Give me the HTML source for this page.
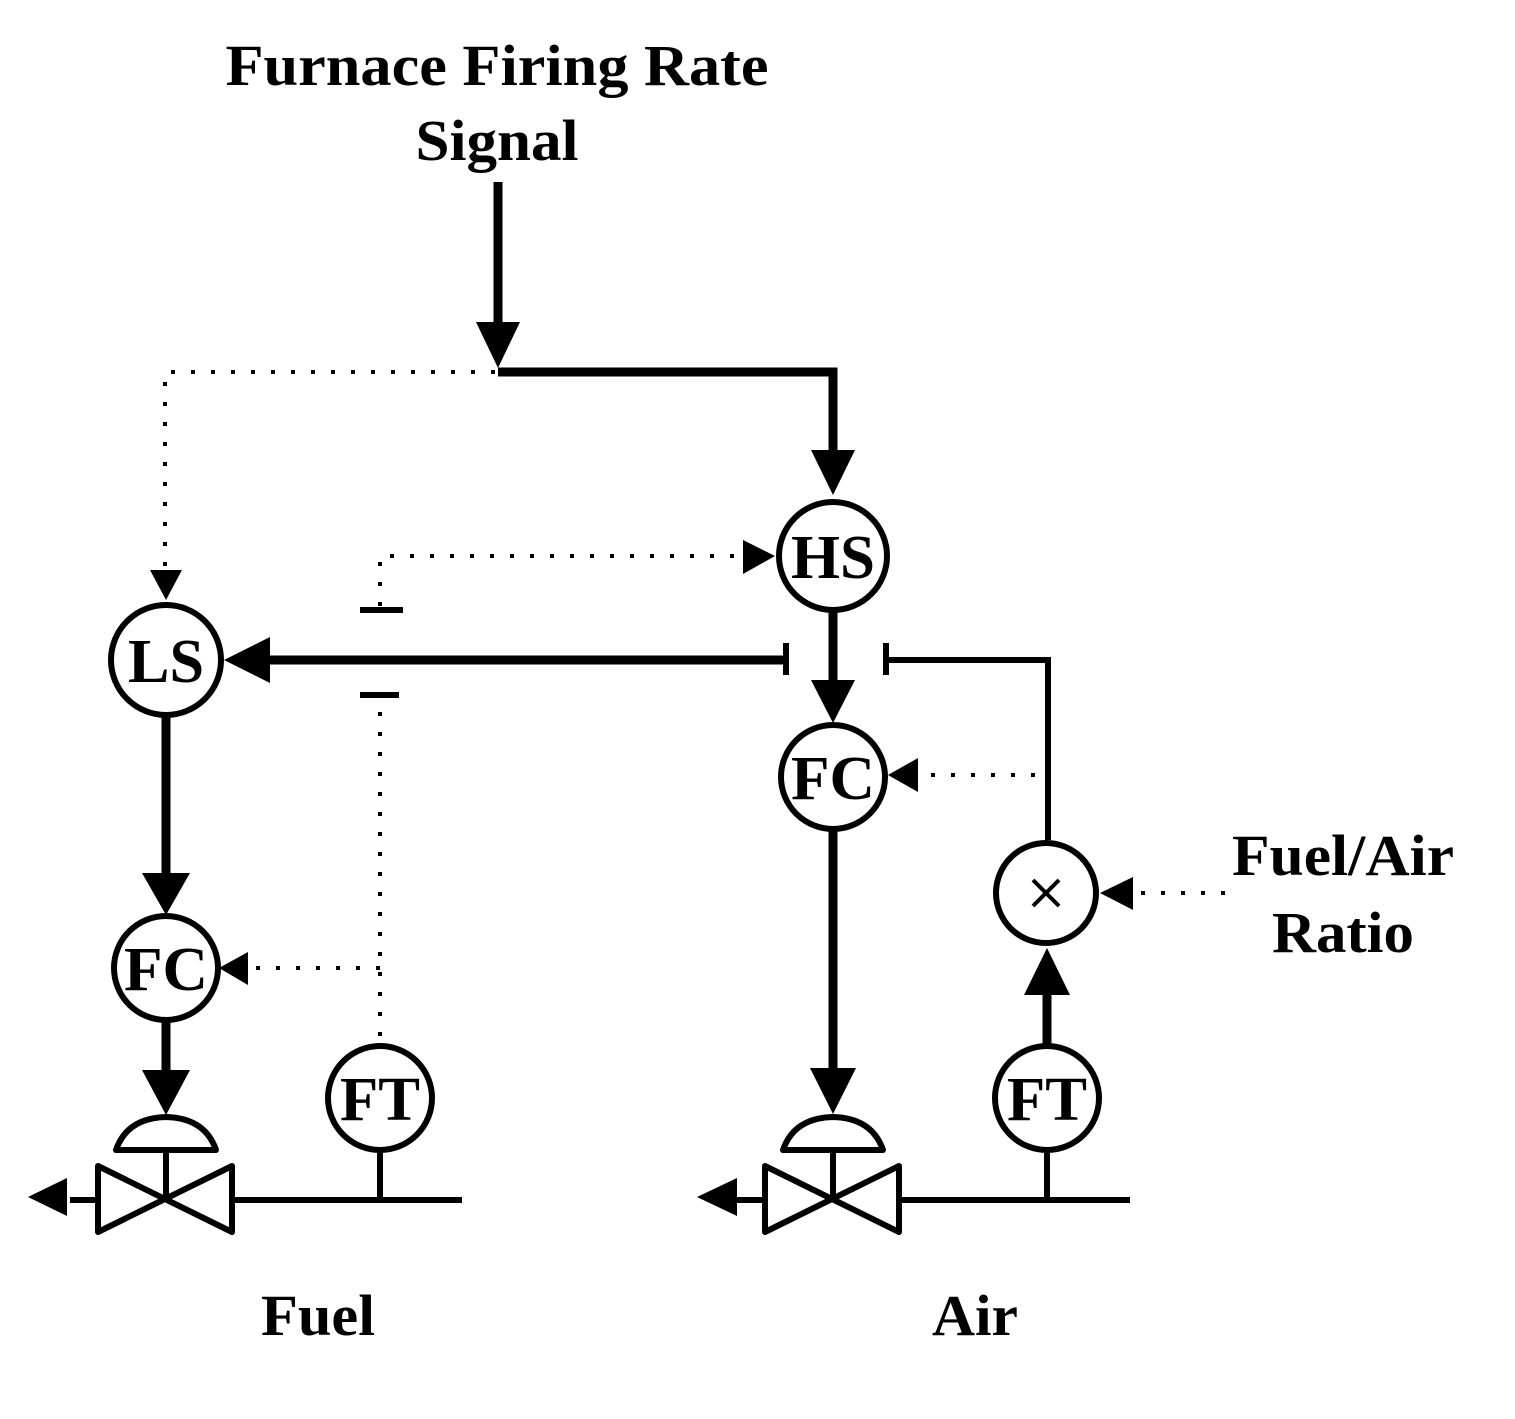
<!DOCTYPE html>
<html><head><style>body{margin:0;background:#fff}svg{display:block}</style></head><body>
<svg width="1515" height="1419" viewBox="0 0 1515 1419" xmlns="http://www.w3.org/2000/svg" font-family="Liberation Serif, serif" font-weight="bold">
<rect width="1515" height="1419" fill="#fff"/>
<g fill="#000" text-anchor="middle" font-size="58">
<text x="497" y="85" textLength="543" lengthAdjust="spacingAndGlyphs">Furnace Firing Rate</text>
<text x="497" y="160" textLength="163" lengthAdjust="spacingAndGlyphs">Signal</text>
<text x="1343" y="875" textLength="222" lengthAdjust="spacingAndGlyphs">Fuel/Air</text>
<text x="1343" y="952" textLength="142" lengthAdjust="spacingAndGlyphs">Ratio</text>
<text x="318" y="1335" textLength="114" lengthAdjust="spacingAndGlyphs">Fuel</text>
<text x="975" y="1335" textLength="86" lengthAdjust="spacingAndGlyphs">Air</text>
</g>
<g stroke="#000" fill="none">
<g stroke-width="9">
<path d="M498 182V330"/>
<path d="M498 372H833V460"/>
<path d="M270 660H787"/>
<path d="M833 612V690"/>
<path d="M166 715V880"/>
<path d="M166 1020V1075"/>
<path d="M833 830V1070"/>
<path d="M1047 1045V990"/>
</g>
<g stroke-width="6">
<path d="M887 660H1048V840"/>
<path d="M786 643V675"/>
<path d="M886 643V675"/>
<path d="M360 610H403"/>
<path d="M360 695H399"/>
</g>
<g stroke-width="4" stroke-dasharray="4 16">
<path d="M495 372H165V575"/>
<path d="M380 606V556H745"/>
<path d="M380 712V1045"/>
<path d="M380 968H250"/>
<path d="M1035 775H920"/>
<path d="M1225 893H1135"/>
</g>
<g stroke-width="6" fill="#fff">
<circle cx="833" cy="556" r="54"/>
<circle cx="166" cy="660" r="55"/>
<circle cx="833" cy="777" r="52"/>
<circle cx="166" cy="968" r="52"/>
<circle cx="380" cy="1098" r="52"/>
<circle cx="1047" cy="1098" r="52"/>
<circle cx="1046" cy="893" r="50"/>
</g>
<path d="M1033 880L1059 906M1059 880L1033 906" stroke-width="4"/>
<g stroke-width="6" stroke-linejoin="round">
<path d="M232 1200H462M380 1150V1200M166 1150V1200M70 1200H98"/>
<path d="M899 1200H1130M1047 1150V1200M833 1150V1200M737 1200H765"/>
<path d="M98 1166L232 1232V1166L98 1232Z" fill="#fff"/>
<path d="M765 1166L899 1232V1166L765 1232Z" fill="#fff"/>
<path d="M116 1150H216Q205 1118 166 1117Q127 1118 116 1150Z" fill="#fff"/>
<path d="M783 1150H883Q872 1118 833 1117Q794 1118 783 1150Z" fill="#fff"/>
</g>
</g>
<g fill="#000">
<path d="M476 322H520L498 368Z"/>
<path d="M811 450H855L833 495Z"/>
<path d="M150 570H182L166 600Z"/>
<path d="M743 540V574L775 556Z"/>
<path d="M270 637V683L224 660Z"/>
<path d="M811 680H855L833 723Z"/>
<path d="M142 873H190L166 915Z"/>
<path d="M248 952V985L219 968Z"/>
<path d="M918 758V792L888 775Z"/>
<path d="M1133 877V910L1100 893Z"/>
<path d="M1024 995H1070L1047 948Z"/>
<path d="M142 1070H190L166 1115Z"/>
<path d="M810 1068H856L833 1114Z"/>
<path d="M67 1178V1216L28 1197Z"/>
<path d="M737 1178V1216L697 1197Z"/>
</g>
<g font-size="62" text-anchor="middle" fill="#000">
<text x="833" y="578" textLength="84" lengthAdjust="spacingAndGlyphs">HS</text>
<text x="166" y="682" textLength="76" lengthAdjust="spacingAndGlyphs">LS</text>
<text x="833" y="799" textLength="84" lengthAdjust="spacingAndGlyphs">FC</text>
<text x="166" y="990" textLength="84" lengthAdjust="spacingAndGlyphs">FC</text>
<text x="380" y="1120" textLength="80" lengthAdjust="spacingAndGlyphs">FT</text>
<text x="1047" y="1120" textLength="80" lengthAdjust="spacingAndGlyphs">FT</text>
</g>
</svg>
</body></html>
